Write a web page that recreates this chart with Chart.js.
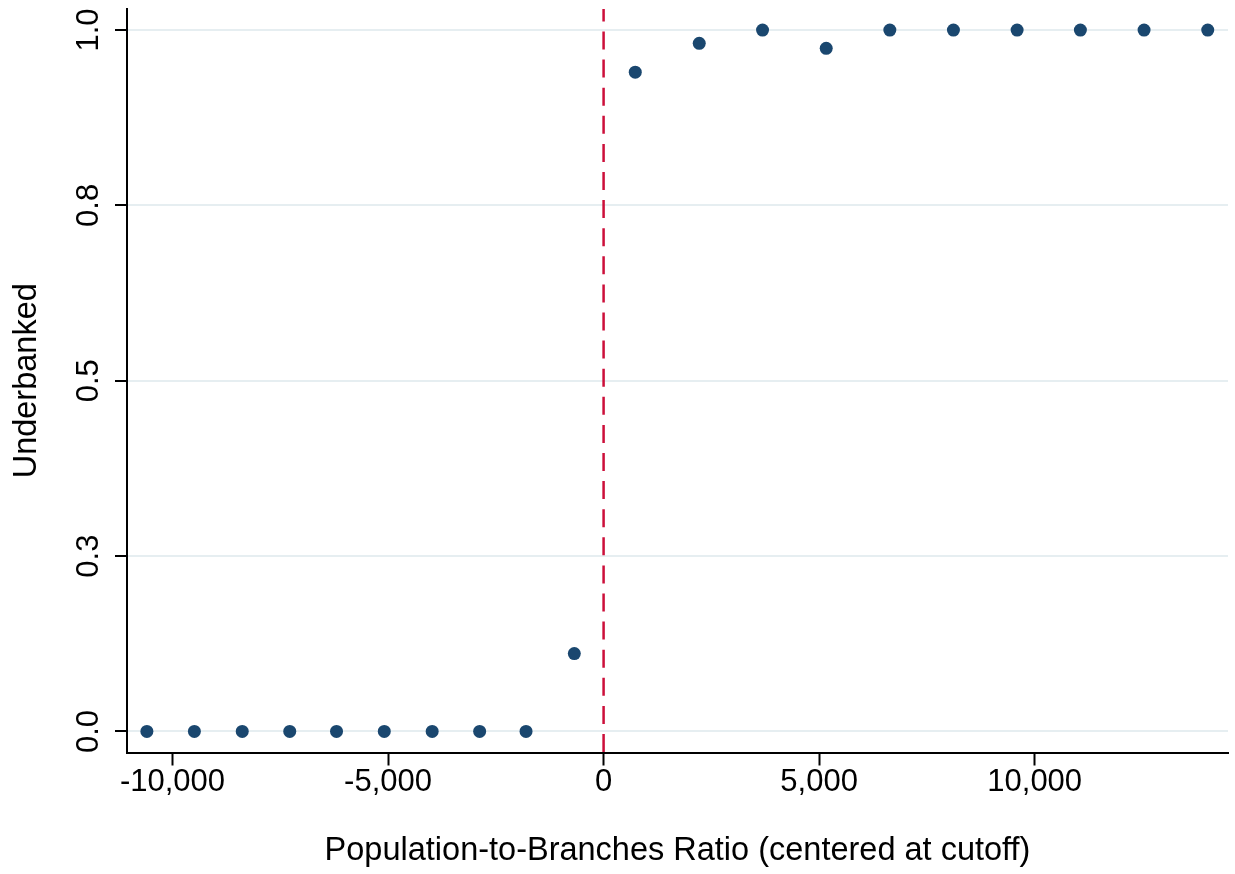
<!DOCTYPE html>
<html>
<head>
<meta charset="utf-8">
<script src="https://cdn.jsdelivr.net/npm/chart.js@4.4.1/dist/chart.umd.min.js"></script>
<style>
  html, body { margin: 0; padding: 0; background: #fff; }
  #wrap { width: 1235px; height: 874px; position: relative; }
</style>
</head>
<body>
<div id="wrap"><canvas id="rdPlot"></canvas></div>
<script>
// bin means of the running variable (centered at cutoff) and share underbanked
const binX = [-10594, -9492, -8382, -7280, -6195, -5087, -3976, -2875, -1799, -679,
              735, 2219, 3687, 5164, 6640, 8115, 9592, 11060, 12537, 14014];
const shareUnderbanked = [0, 0, 0, 0, 0, 0, 0, 0, 0, 0.111,
                          0.940, 0.981, 1, 0.974, 1, 1, 1, 1, 1, 1];

const cutoff = 0;

const xTickValues = [-10000, -5000, 0, 5000, 10000];
const xTickLabels = ["-10,000", "-5,000", "0", "5,000", "10,000"];
const yTickValues = [0, 0.25, 0.5, 0.75, 1];
const yTickLabels = ["0.0", "0.3", "0.5", "0.8", "1.0"];

const xRange = [-11055, 14484];
const yRange = [-0.03, 1.03];

const FONT = "'Liberation Sans', Arial, sans-serif";

// dashed vertical line at the cutoff
const cutoffLine = {
  id: "cutoffLine",
  beforeDatasetsDraw(chart) {
    const { ctx, chartArea, scales } = chart;
    const x = scales.x.getPixelForValue(cutoff);
    ctx.save();
    ctx.strokeStyle = "#cc0f3a";
    ctx.lineWidth = 2.5;
    ctx.setLineDash([18, 10.1]);
    ctx.lineDashOffset = 5.6;
    ctx.beginPath();
    ctx.moveTo(x, chartArea.top);
    ctx.lineTo(x, chartArea.bottom);
    ctx.stroke();
    ctx.restore();
  }
};

const points = binX.map((x, i) => ({ x, y: shareUnderbanked[i] }));

new Chart(document.getElementById("rdPlot"), {
  type: "scatter",
  data: {
    datasets: [{
      data: points,
      backgroundColor: "#1a476f",
      borderColor: "#1a476f",
      borderWidth: 0,
      pointRadius: 6.5,
      pointHoverRadius: 6.5
    }]
  },
  options: {
    responsive: true,
    maintainAspectRatio: false,
    animation: false,
    events: [],
    layout: { padding: { top: 9, right: 7, bottom: 0, left: 0 } },
    plugins: { legend: { display: false }, tooltip: { enabled: false } },
    scales: {
      x: {
        type: "linear",
        min: xRange[0],
        max: xRange[1],
        afterBuildTicks: s => { s.ticks = xTickValues.map(v => ({ value: v })); },
        afterFit: s => { s.height = 121.5; s.paddingLeft = 0; s.paddingRight = 0; },
        border: { color: "#000", width: 2 },
        grid: { drawOnChartArea: false, tickColor: "#000", tickWidth: 2, tickLength: 13 },
        ticks: {
          autoSkip: false,
          maxRotation: 0,
          padding: -2,
          color: "#000",
          font: { family: FONT, size: 31 },
          callback: (v, i) => xTickLabels[i]
        },
        title: {
          display: true,
          text: "Population-to-Branches Ratio (centered at cutoff)",
          color: "#000",
          font: { family: FONT, size: 32.5 },
          padding: { top: 0, bottom: 3 }
        }
      },
      y: {
        type: "linear",
        min: yRange[0],
        max: yRange[1],
        afterBuildTicks: s => { s.ticks = yTickValues.map(v => ({ value: v })); },
        afterFit: s => { s.width = 127; s.paddingTop = 0; s.paddingBottom = 0; },
        border: { color: "#000", width: 2 },
        grid: { color: "#e6eef1", lineWidth: 2, tickColor: "#000", tickWidth: 2, tickLength: 12 },
        ticks: {
          autoSkip: false,
          minRotation: 90,
          maxRotation: 90,
          crossAlign: "center",
          padding: 4,
          color: "#000",
          font: { family: FONT, size: 31 },
          callback: (v, i) => yTickLabels[i]
        },
        title: {
          display: true,
          text: "Underbanked",
          color: "#000",
          font: { family: FONT, size: 32.5 },
          padding: { top: 8, bottom: 0 }
        }
      }
    }
  },
  plugins: [cutoffLine]
});
</script>
</body>
</html>
